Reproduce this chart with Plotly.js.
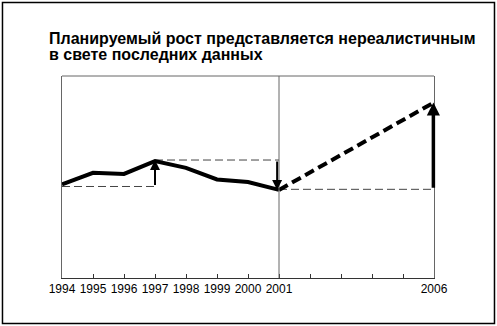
<!DOCTYPE html>
<html><head><meta charset="utf-8">
<script src="https://cdn.plot.ly/plotly-3.0.1.min.js"></script>
<style>html,body{margin:0;padding:0;background:#fff}#chart{width:497px;height:326px}</style>
</head><body><div id="chart"></div>
<script>
// Data
var years = [1994, 1995, 1996, 1997, 1998, 1999, 2000, 2001];
var actual = [46.4, 52.1, 51.5, 57.9, 54.5, 48.8, 47.5, 43.6];
var projYears = [2001, 2006];
var projValues = [43.6, 86.9];
var baseYears = [1994, 1997];
var baseLevel = [45.3, 45.3];
var peakYears = [1997, 2001];
var peakLevel = [58.4, 58.4];
var lastYears = [2001, 2006];
var lastLevel = [43.9, 43.9];
var tickYears = [1994,1995,1996,1997,1998,1999,2000,2001,2002,2003,2004,2005,2006];
var tickLabels = ['1994','1995','1996','1997','1998','1999','2000','2001','','','','','2006'];
var titleLines = ['Планируемый рост представляется нереалистичным', 'в свете последних данных'];

var FONT = 'Liberation Sans, Arial, Helvetica, sans-serif';
var thinDash = {color:'#444', width:1, dash:'8px,4px'};

var traces = [
  {x: baseYears, y: baseLevel, mode:'lines', line: thinDash, hoverinfo:'skip'},
  {x: peakYears, y: peakLevel, mode:'lines', line: thinDash, hoverinfo:'skip'},
  {x: lastYears, y: lastLevel, mode:'lines', line: thinDash, hoverinfo:'skip'},
  {x: years, y: actual, mode:'lines', line:{color:'#000', width:4}},
  {x: projYears, y: projValues, mode:'lines', line:{color:'#000', width:4, dash:'10px,5px'}}
];

function arrow(x, yFrom, yTo, w) {
  return {x:x, y:yTo, ax:x, ay:yFrom, xref:'x', yref:'y', axref:'x', ayref:'y',
    text:'', showarrow:true, arrowhead:2, arrowsize:(w>2?0.75:1.0), arrowwidth:w, arrowcolor:'#000', standoff:0};
}

var annotations = [
  arrow(baseYears[1], baseLevel[0], peakLevel[0], 2),
  arrow(peakYears[1] - 0.06, peakLevel[0], actual[7], 2),
  arrow(2006 - 0.02, lastLevel[0], projValues[1], 3.5),
  {xref:'paper', yref:'paper', x:-0.0403, y:1.187, xanchor:'left', yanchor:'middle', showarrow:false,
   text:'<b>'+titleLines[0]+'</b>', font:{family:FONT, size:16, color:'#000'}},
  {xref:'paper', yref:'paper', x:-0.0403, y:1.107, xanchor:'left', yanchor:'middle', showarrow:false,
   text:'<b>'+titleLines[1]+'</b>', font:{family:FONT, size:16, color:'#000'}}
];

var shapes = [
  {type:'line', xref:'x', yref:'paper', x0:2001, x1:2001, y0:0, y1:1, line:{color:'#666', width:1}},
  {type:'line', xref:'paper', yref:'paper', x0:0, x1:1, y0:1, y1:1, line:{color:'#666', width:1}},
  {type:'rect', xref:'paper', yref:'paper', x0:-0.160, x1:1.1626, y0:-0.2252, y1:1.3639, line:{color:'#000', width:1.5}}
];

var layout = {
  width:497, height:326,
  margin:{l:62, r:63, t:76, b:48, pad:0},
  paper_bgcolor:'#fff', plot_bgcolor:'#fff',
  showlegend:false,
  font:{family:FONT, size:12, color:'#000'},
  xaxis:{range:[1994,2006], tickmode:'array', tickvals:tickYears, ticktext:tickLabels,
    ticks:'inside', ticklen:4, tickwidth:1, tickcolor:'#333', showgrid:false, zeroline:false,
    showline:true, linecolor:'#333', linewidth:1, mirror:false,
    tickfont:{family:FONT, size:12, color:'#000'}, fixedrange:true},
  yaxis:{range:[0,100], showticklabels:false, ticks:'', showgrid:false, zeroline:false,
    showline:true, linecolor:'#666', linewidth:1, mirror:true, fixedrange:true},
  annotations: annotations,
  shapes: shapes
};

Plotly.newPlot('chart', traces, layout, {staticPlot:true, displayModeBar:false});
</script>
</body></html>
